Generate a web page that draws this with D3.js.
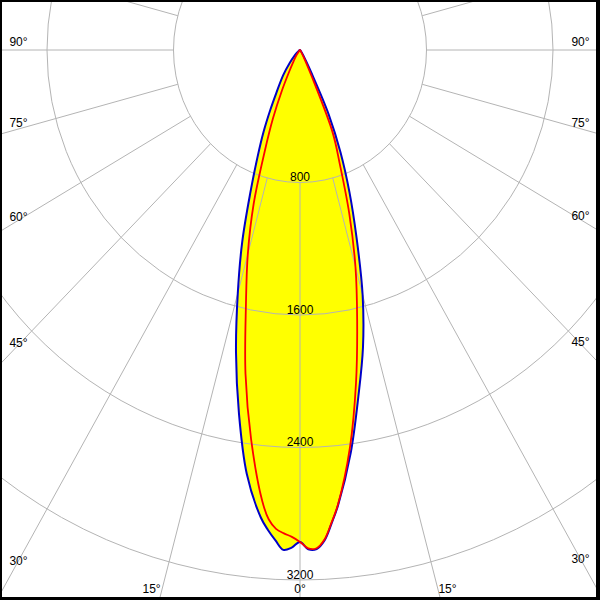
<!DOCTYPE html>
<html>
<head>
<meta charset="utf-8">
<script src="https://cdn.jsdelivr.net/npm/d3@7"></script>
<style>
html,body{margin:0;padding:0;background:#fff;}
svg{display:block;}
text{font-family:"Liberation Sans",Arial,sans-serif;font-size:12px;fill:#000;}
</style>
</head>
<body>
<svg id="chart" width="600" height="600"></svg>
<script>
// gamma angles (degrees from nadir), same for both half-planes
const angles    = [0,1,2,3,4,5,7.5,10,12.5,15,17.5,20,22.5,25,27.5,30,35,40,45,50,60,70,80,90];
// blue curve (left half / right half), cd
const blueLeft  = [2970,3005,3020,2965,2905,2835,2580,2225,1870,1520,1215,920,705,545,405,300,185,100,50,25,8,3,1,0];
const blueRight = [2970,3015,3015,2965,2865,2760,2455,2125,1840,1530,1190,915,670,430,160,70,25,8,3,0,0,0,0,0];
// red curve (left half / right half), cd
const redLeft   = [2970,2940,2920,2895,2840,2735,2370,1985,1580,1275,975,655,445,270,150,90,40,15,5,0,0,0,0,0];
const redRight  = [2970,3010,3010,2960,2860,2755,2420,2040,1670,1355,1037,740,540,170,70,30,10,3,0,0,0,0,0,0];
// radial ticks
const radialTicks = [800,1600,2400,3200];
const radialLabels = ["800","1600","2400","3200"];
// angular grid
const gridAngles = d3.range(-180, 181, 15);
const sideLabelAngles = [90,75,60,45,30];
const bottomLabelAngles = [15,0];

const W = 600, H = 600;
const svg = d3.select("#chart");

const xScale = d3.scaleLinear().domain([-3200, 3200]).range([300 - 506, 300 + 506]);
const yScale = d3.scaleLinear().domain([0, 3200]).range([50, 580]);
const cx = xScale(0), cy = yScale(0);
const rad = d => d * Math.PI / 180;
const px = (g, I) => xScale(I * Math.sin(rad(g)));
const py = (g, I) => yScale(I * Math.cos(rad(g)));

// frame
svg.append("rect").attr("x",0).attr("y",0).attr("width",W).attr("height",H).attr("fill","#000");
svg.append("rect").attr("x",2).attr("y",2).attr("width",594).attr("height",595).attr("fill","#fff");

svg.append("defs").append("clipPath").attr("id","clip")
  .append("rect").attr("x",2).attr("y",2).attr("width",594).attr("height",595);
const g = svg.append("g").attr("clip-path","url(#clip)");

function curvePoints(left, right) {
  const pts = [];
  for (let i = angles.length - 1; i >= 0; i--) pts.push([-angles[i], left[i]]);
  for (let i = 1; i < angles.length; i++) pts.push([angles[i], right[i]]);
  return pts;
}
const line = d3.line()
  .x(d => px(d[0], d[1]))
  .y(d => py(d[0], d[1]))
  .curve(d3.curveCatmullRom.alpha(0.5));

const bluePts = curvePoints(blueLeft, blueRight);
const redPts = curvePoints(redLeft, redRight);

// yellow fill
g.append("path").attr("d", line(bluePts) + "Z").attr("fill", "#ffff00").attr("stroke", "none");
g.append("path").attr("d", line(redPts) + "Z").attr("fill", "#ffff00").attr("stroke", "none");

// grid circles
const gridColor = "#b4b4b4";
g.selectAll("ellipse.grid").data(radialTicks).enter().append("ellipse")
  .attr("cx", cx).attr("cy", cy)
  .attr("rx", d => xScale(d) - cx)
  .attr("ry", d => yScale(d) - cy)
  .attr("fill", "none").attr("stroke", gridColor).attr("stroke-width", 1);

// radial lines from first circle outward
g.selectAll("line.grid").data(gridAngles).enter().append("line")
  .attr("x1", d => px(d, radialTicks[0]))
  .attr("y1", d => py(d, radialTicks[0]))
  .attr("x2", d => px(d, 8000))
  .attr("y2", d => py(d, 8000))
  .attr("stroke", gridColor).attr("stroke-width", 1);

// curves
g.append("path").attr("d", line(bluePts) + "Z").attr("fill", "none")
  .attr("stroke", "#0000c8").attr("stroke-width", 2).attr("stroke-linejoin","round");
g.append("path").attr("d", line(redPts) + "Z").attr("fill", "none")
  .attr("stroke", "#ff0000").attr("stroke-width", 1.8).attr("stroke-linejoin","round");

// radial labels
g.selectAll("text.rl").data(radialTicks).enter().append("text")
  .attr("x", cx).attr("y", (d) => yScale(d) - 1.5)
  .attr("text-anchor", "middle")
  .text((d, i) => radialLabels[i]);

// side angle labels (where the line is at x = 18 / 582)
function lineYatX(angle, x) {
  const dx = px(angle, 1000) - cx, dy = py(angle, 1000) - cy;
  return cy + dy * (x - cx) / dx;
}
sideLabelAngles.forEach(a => {
  const off = 8 * (1 - Math.cos(rad(a)));
  const yl = lineYatX(-a, 18) - off + 4;
  g.append("text").attr("x", 18.5).attr("y", yl).attr("text-anchor","middle").text(a + "°");
  const yr = lineYatX(a, 581) - off + 4;
  g.append("text").attr("x", 580.5).attr("y", yr).attr("text-anchor","middle").text(a + "°");
});
// bottom labels
function lineXatY(angle, y) {
  const dx = px(angle, 1000) - cx, dy = py(angle, 1000) - cy;
  return cx + dx * (y - cy) / dy;
}
bottomLabelAngles.forEach(a => {
  const yb = 593;
  if (a === 0) {
    g.append("text").attr("x", cx).attr("y", yb).attr("text-anchor","middle").text("0°");
  } else {
    g.append("text").attr("x", lineXatY(-a, 589) - 1.5).attr("y", yb).attr("text-anchor","end").text(a + "°");
    g.append("text").attr("x", lineXatY(a, 589) + 0.5).attr("y", yb).attr("text-anchor","start").text(a + "°");
  }
});
</script>
</body>
</html>
